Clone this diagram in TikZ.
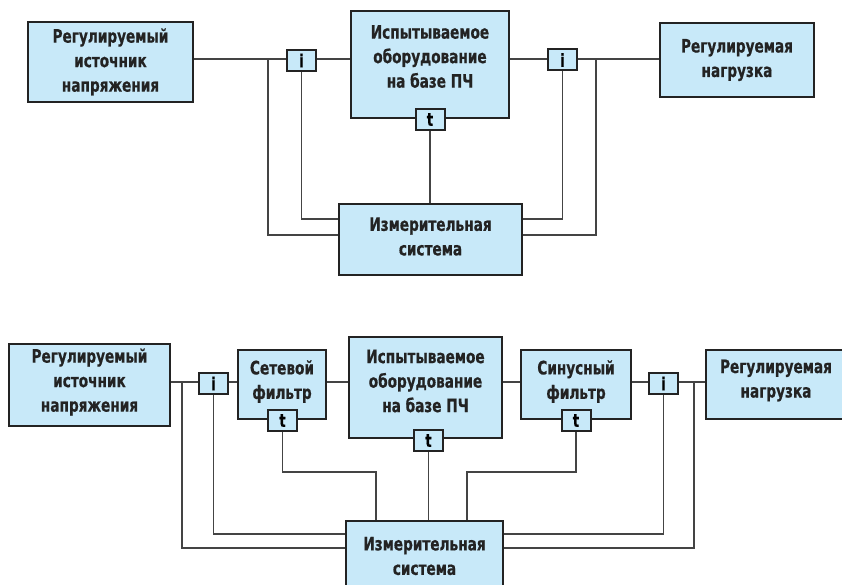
\documentclass[tikz,border=0pt]{standalone}
\usepackage{fontspec}
\setmainfont{DejaVu Sans Condensed}[BoldFont={DejaVu Sans Condensed Bold}, BoldFeatures={FakeBold=0.6}, FakeStretch=0.82]
\definecolor{boxblue}{RGB}{200,233,249}
\definecolor{ink}{RGB}{35,35,35}
\tikzset{
    box/.style={draw=ink, line width=2.6pt, fill=boxblue, inner sep=0pt},
    tag/.style={draw=ink, line width=2pt, fill=boxblue, minimum width=29pt, minimum height=21pt, inner sep=0pt, font=\fontsize{18}{18}\selectfont\bfseries},
    txt/.style={align=center, text=ink, font=\fontsize{18.5}{24.5}\selectfont\bfseries},
    wire/.style={draw=ink!85, line width=1.4pt}
}

\begin{document}
\begin{tikzpicture}[x=1pt, y=-1pt]
        \useasboundingbox (0,0) rectangle (842,585);
        \clip (0,0) rectangle (842,585);
        % top scheme, boxes
            \node[box, minimum width=165pt, minimum height=80pt] (src1) at (110.5,62) {};
            \node[txt] at (src1) {Регулируемый\\источник\\напряжения};
            \node[box, minimum width=158pt, minimum height=107pt] (dut1) at (430,64.5) {};
            \node[txt] at ([yshift=8pt]dut1.center) {Испытываемое\\оборудование\\на базе ПЧ};
            \node[box, minimum width=154pt, minimum height=74pt] (load1) at (737,60) {};
            \node[txt] at (load1) {Регулируемая\\нагрузка};
            \node[box, minimum width=183pt, minimum height=71pt] (meas1) at (430.5,239.5) {};
            \node[txt] at ([yshift=3pt]meas1.center) {Измерительная\\система};
            \node[tag] (i1a) at (301.5,60.5) {i};
            \node[tag] (i1b) at (562.5,60) {i};
            \node[tag] (t1) at (430,119.5) {t};
        % top scheme, lines
            \coordinate (br1a) at (268,59);
            \coordinate (br1b) at (596,59);
            \draw [wire] (src1.east |- br1a) -- (i1a.west |- br1a);
            \draw [wire] (i1a.east |- br1a) -- (dut1.west |- br1a);
            \draw [wire] (dut1.east |- br1a) -- (i1b.west |- br1a);
            \draw [wire] (i1b.east |- br1a) -- (load1.west |- br1a);
            \draw [wire] (i1a.south) |- ([yshift=20.5pt]meas1.west);
            \draw [wire] (i1b.south) |- ([yshift=20.5pt]meas1.east);
            \draw [wire] (t1.south) -- (t1.south |- meas1.north);
            \draw [wire] (br1a) |- ([yshift=4.5pt]meas1.west);
            \draw [wire] (br1b) |- ([yshift=4.5pt]meas1.east);

        % bottom scheme, boxes
            \node[box, minimum width=161pt, minimum height=82pt] (src2) at (89.5,385) {};
            \node[txt] at ([yshift=3pt]src2.center) {Регулируемый\\источник\\напряжения};
            \node[box, minimum width=88pt, minimum height=69pt] (flt2a) at (282,384.5) {};
            \node[txt] at ([yshift=3pt]flt2a.center) {Сетевой\\фильтр};
            \node[box, minimum width=153pt, minimum height=101pt] (dut2) at (425.5,387.5) {};
            \node[txt] at ([yshift=6.5pt]dut2.center) {Испытываемое\\оборудование\\на базе ПЧ};
            \node[box, minimum width=110pt, minimum height=69pt] (flt2b) at (576,384.5) {};
            \node[txt] at ([yshift=3pt]flt2b.center) {Синусный\\фильтр};
            \node[box, minimum width=140pt, minimum height=69pt] (load2) at (776,384.5) {};
            \node[txt] at ([yshift=4pt]load2.center) {Регулируемая\\нагрузка};
            \node[box, minimum width=157pt, minimum height=74pt] (meas2) at (424.5,558) {};
            \node[txt] at ([yshift=2pt]meas2.center) {Измерительная\\система};
            \node[tag] (i2a) at (213.5,383.5) {i};
            \node[tag] (i2b) at (663.5,383.5) {i};
            \node[tag] (t2a) at (282.5,420.5) {t};
            \node[tag] (t2b) at (428.5,440.5) {t};
            \node[tag] (t2c) at (576,420.5) {t};
        % bottom scheme, lines
            \coordinate (br2a) at (182,382);
            \coordinate (br2b) at (694,382);
            \draw [wire] (src2.east |- br2a) -- (i2a.west |- br2a);
            \draw [wire] (i2a.east |- br2a) -- (flt2a.west |- br2a);
            \draw [wire] (flt2a.east |- br2a) -- (dut2.west |- br2a);
            \draw [wire] (dut2.east |- br2a) -- (flt2b.west |- br2a);
            \draw [wire] (flt2b.east |- br2a) -- (i2b.west |- br2a);
            \draw [wire] (i2b.east |- br2a) -- (load2.west |- br2a);
            \draw [wire] (br2a) |- (meas2.west |- 0,548);
            \draw [wire] (i2a.south) |- (meas2.west |- 0,534);
            \draw [wire] (br2b) |- (meas2.east |- 0,548);
            \draw [wire] (i2b.south) |- (meas2.east |- 0,534);
            \draw [wire] (t2a.south) |- (376,472) -- (376,472 |- meas2.north);
            \draw [wire] (t2b.south) -- (t2b.south |- meas2.north);
            \draw [wire] (t2c.south) |- (467,472) -- (467,472 |- meas2.north);
    \end{tikzpicture}
\end{document}
